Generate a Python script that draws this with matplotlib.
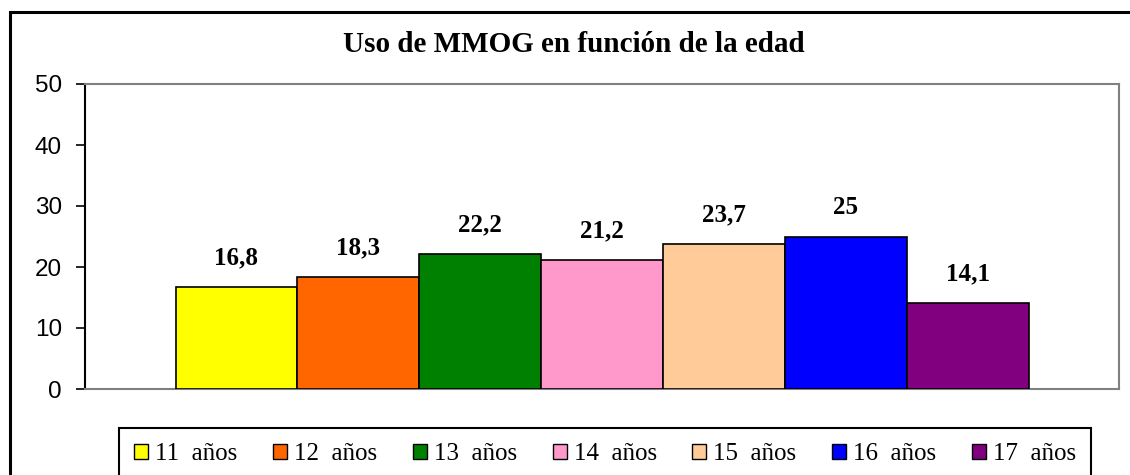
import matplotlib.pyplot as plt
from matplotlib.patches import Rectangle, Patch

# datos
edades = ['11  años', '12  años', '13  años', '14  años', '15  años', '16  años', '17  años']
valores = [16.8, 18.3, 22.2, 21.2, 23.7, 25, 14.1]
etiquetas = ['16,8', '18,3', '22,2', '21,2', '23,7', '25', '14,1']
colores = ['#FFFF00', '#FF6600', '#008000', '#FF99CC', '#FFCC99', '#0000FF', '#800080']

W, H = 1130, 475
fig = plt.figure(figsize=(W / 100, H / 100), dpi=100)

# marco exterior
fig.patches.append(Rectangle((10 / W, -0.1), 2, 1 - 12 / H + 0.1, transform=fig.transFigure,
                             fill=False, edgecolor='black', linewidth=2.2))

ax = fig.add_axes([85 / W, 1 - 389 / H, 1034 / W, 305 / H])

n = len(valores)
xs = list(range(n))
ax.bar(xs, valores, width=1.0, color=colores, edgecolor='black', linewidth=1.2, zorder=3)
margen = (1034 / (853 / n) - n) / 2
ax.set_xlim(-0.5 - margen, n - 0.5 + margen)
ax.set_ylim(0, 50)

for x, v, t in zip(xs, valores, etiquetas):
    ax.text(x, v + 2.9, t, ha='center', va='bottom', fontsize=18, fontweight='bold',
            family='Liberation Serif')

ax.set_yticks([0, 10, 20, 30, 40, 50])
ax.set_xticks([])
ax.tick_params(axis='y', direction='out', length=6.5, width=1.2, labelsize=17.5, pad=10)
for lab in ax.get_yticklabels():
    lab.set_family('Liberation Sans')
ax.spines['left'].set_color('black')
ax.spines['left'].set_linewidth(1.5)
for s in ['top', 'right', 'bottom']:
    ax.spines[s].set_color('#808080')
    ax.spines[s].set_linewidth(1.5)

fig.text(574 / W, 1 - 45 / H, 'Uso de MMOG en función de la edad', ha='center', va='center',
         fontsize=21, fontweight='bold', family='Liberation Serif')

handles = [Patch(facecolor=c, edgecolor='black', linewidth=1) for c in colores]
leg = fig.legend(handles, edades, loc='upper left',
                 bbox_to_anchor=(119 / W, 1 - 428 / H - 0.2, 972 / W, 0.2),
                 mode='expand', ncol=n, frameon=True, fancybox=False, edgecolor='black',
                 framealpha=1, prop={'family': 'Liberation Serif', 'size': 18},
                 handlelength=0.56, handleheight=0.56, handletextpad=0.28,
                 columnspacing=0.5, borderpad=0.6, borderaxespad=0)
leg.get_frame().set_linewidth(1.5)

fig.savefig('out.png', dpi=100)
